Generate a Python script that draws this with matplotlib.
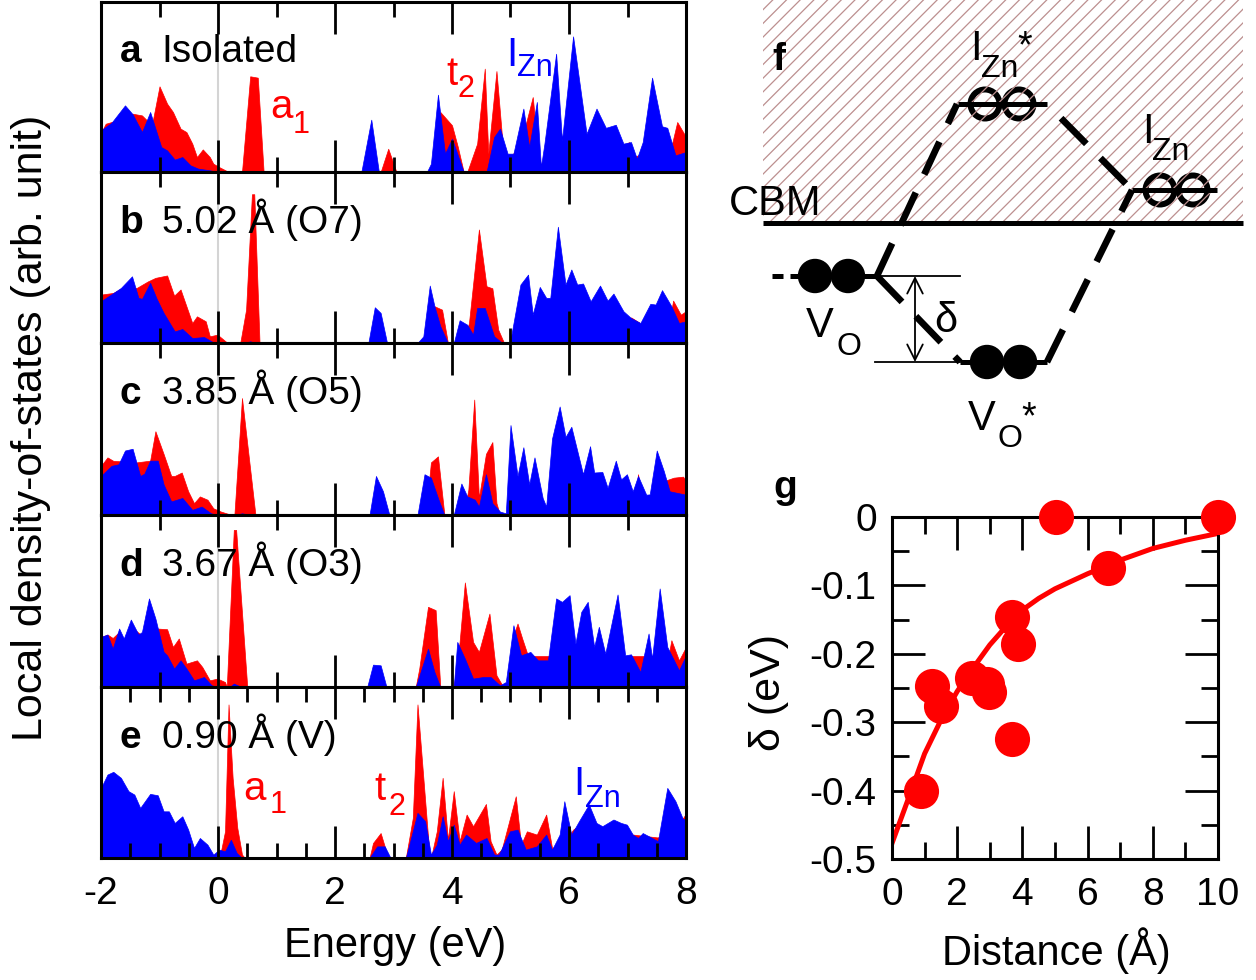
import matplotlib
matplotlib.use('Agg')
import matplotlib.pyplot as plt
from matplotlib.patches import Rectangle, Circle
from matplotlib.ticker import MultipleLocator, FuncFormatter
import numpy as np

plt.rcParams['font.family'] = ['Liberation Sans', 'DejaVu Sans']
plt.rcParams['axes.unicode_minus'] = False

# ---- local DOS, (energy eV, arb. unit) breakpoints ----
a_blue = [(-2.00, 2.45), (-1.82, 2.9), (-1.59, 3.92), (-1.46, 3.4), (-1.30, 2.35), (-1.16, 3.53),
          (-0.97, 1.47), (-0.87, 1.27), (-0.74, 0.73), (-0.61, 0.88), (-0.47, 0.39), (-0.34, 0.2),
          (-0.14, 0.1), (0.0, 0.0), (2.45, 0.0), (2.62, 3.08), (2.75, 0.0),
          (3.57, 0.0), (3.64, 0.49), (3.76, 4.55), (3.88, 1.08), (4.00, 1.96), (4.20, 0.0),
          (4.59, 0.0), (4.72, 2.06), (4.82, 2.55), (4.95, 1.08), (5.05, 1.08), (5.22, 3.73),
          (5.32, 1.47), (5.45, 4.12), (5.52, 0.3), (5.58, 1.67), (5.78, 6.96), (5.88, 1.86),
          (6.07, 7.98), (6.30, 2.25), (6.47, 3.73), (6.63, 2.6), (6.80, 2.78), (6.93, 1.67),
          (7.06, 1.76), (7.16, 0.78), (7.26, 1.76), (7.42, 5.55), (7.59, 2.69), (7.68, 2.6),
          (7.82, 0.98), (8.00, 1.18)]
a_red = [(-2.00, 2.3), (-1.92, 2.84), (-1.82, 2.94), (-1.59, 3.2), (-1.46, 3.43), (-1.30, 3.33),
         (-1.13, 2.75), (-1.00, 5.04), (-0.87, 4.02), (-0.77, 3.53), (-0.64, 2.55), (-0.54, 2.35),
         (-0.44, 1.67), (-0.36, 0.88), (-0.26, 1.33), (-0.14, 0.88), (-0.08, 0.49), (0.02, 0.29),
         (0.15, 0.06), (0.25, 0.0), (0.41, 0.0), (0.55, 5.63), (0.68, 5.55), (0.78, 0.0),
         (2.78, 0.0), (2.91, 1.37), (3.05, 0.0),
         (3.70, 0.0), (3.80, 3.53), (4.00, 2.75), (4.10, 1.47), (4.20, 0.0),
         (4.26, 0.0), (4.43, 1.67), (4.56, 6.08), (4.62, 1.08), (4.76, 5.94), (4.86, 1.86),
         (4.95, 0.5), (5.20, 2.0), (5.38, 4.41), (5.45, 2.0), (5.52, 0.2), (5.60, 1.5),
         (6.90, 1.5), (7.03, 1.76), (7.10, 0.9), (7.75, 1.5), (7.85, 2.94), (8.00, 2.06)]

b_blue = [(-2.00, 2.44), (-1.66, 3.22), (-1.47, 3.9), (-1.36, 2.64), (-1.30, 2.58), (-1.16, 3.52),
          (-1.05, 2.6), (-0.93, 1.76), (-0.74, 0.68), (-0.61, 0.82), (-0.44, 0.29), (-0.24, 0.35),
          (-0.08, 0.04), (0.0, 0.0), (0.45, 0.0), (0.55, 0.1), (0.65, 0.0),
          (2.57, 0.0), (2.68, 2.09), (2.78, 1.76), (2.89, 0.0),
          (3.41, 0.0), (3.51, 0.39), (3.62, 3.36), (3.70, 2.15), (3.80, 0.98), (3.93, 0.0),
          (4.03, 0.0), (4.13, 1.33), (4.26, 1.07), (4.36, 0.49), (4.43, 2.05), (4.56, 2.05),
          (4.72, 0.39), (4.86, 0.0), (4.99, 0.0), (5.17, 3.42), (5.30, 4.0), (5.38, 1.66),
          (5.50, 3.28), (5.61, 2.64), (5.68, 2.64), (5.81, 6.8), (5.94, 3.42), (6.04, 4.3),
          (6.14, 3.42), (6.24, 3.48), (6.37, 2.44), (6.53, 3.36), (6.66, 2.48), (6.76, 2.89),
          (6.93, 1.86), (7.06, 1.46), (7.22, 1.17), (7.39, 2.29), (7.48, 2.25), (7.59, 3.09),
          (7.75, 2.15), (7.88, 1.17), (8.00, 1.27)]
b_red = [(-2.00, 2.83), (-1.79, 2.93), (-1.59, 3.3), (-1.39, 3.22), (-1.20, 3.6), (-1.07, 3.81),
         (-0.87, 3.95), (-0.75, 2.77), (-0.64, 3.13), (-0.54, 2.15), (-0.44, 1.17), (-0.36, 1.56),
         (-0.21, 1.27), (-0.14, 0.39), (-0.01, 0.49), (0.15, 0.04), (0.25, 0.0),
         (0.38, 0.0), (0.48, 1.95), (0.58, 8.7), (0.62, 8.7), (0.71, 0.0),
         (3.65, 0.0), (3.70, 2.15), (3.83, 1.95), (3.93, 0.0),
         (4.20, 0.0), (4.29, 1.17), (4.46, 6.64), (4.59, 3.32), (4.69, 3.2), (4.79, 0.78), (4.89, 0.0),
         (7.00, 0.0), (7.06, 1.5), (7.20, 1.2), (7.30, 0.0),
         (7.65, 0.0), (7.78, 2.48), (7.91, 1.66), (8.00, 1.86)]

c_blue = [(-2.00, 2.27), (-1.82, 2.86), (-1.70, 2.95), (-1.59, 3.75), (-1.46, 3.85), (-1.33, 2.27),
          (-1.26, 2.4), (-1.16, 3.16), (-1.03, 3.16), (-0.93, 1.78), (-0.80, 0.79), (-0.61, 0.99),
          (-0.44, 0.3), (-0.28, 0.49), (-0.12, 0.1), (0.0, 0.0), (0.30, 0.0), (0.41, 0.1), (0.55, 0.0),
          (2.59, 0.0), (2.70, 2.27), (2.82, 1.38), (2.93, 0.0),
          (3.41, 0.0), (3.53, 2.37), (3.64, 2.17), (3.77, 0.89), (3.87, 0.0),
          (4.03, 0.0), (4.16, 1.83), (4.26, 1.08), (4.39, 0.89), (4.46, 0.49), (4.58, 2.37),
          (4.69, 0.69), (4.82, 0.2), (4.92, 0.1), (5.00, 5.23), (5.12, 2.27), (5.22, 3.94),
          (5.32, 1.78), (5.41, 3.35), (5.55, 0.99), (5.61, 0.49), (5.71, 4.44), (5.84, 6.31),
          (5.94, 4.54), (6.04, 5.13), (6.24, 2.37), (6.36, 4.0), (6.43, 2.47), (6.57, 2.5),
          (6.66, 1.58), (6.80, 3.16), (6.89, 2.07), (6.99, 2.37), (7.09, 1.38), (7.18, 2.27),
          (7.32, 1.18), (7.38, 1.2), (7.50, 3.75), (7.62, 2.56), (7.72, 1.38), (8.00, 1.18)]
c_red = [(-2.00, 2.86), (-1.89, 3.35), (-1.79, 3.15), (-1.39, 3.06), (-1.16, 3.16), (-1.07, 4.87),
         (-0.93, 3.55), (-0.80, 2.27), (-0.74, 2.27), (-0.62, 2.47), (-0.51, 1.38), (-0.41, 0.69),
         (-0.31, 1.08), (-0.18, 0.89), (-0.08, 0.39), (0.05, 0.2), (0.18, 0.06), (0.28, 0.0),
         (0.41, 6.8), (0.64, 0.0),
         (3.55, 0.0), (3.64, 3.06), (3.76, 3.41), (3.87, 0.0),
         (4.20, 0.0), (4.28, 1.48), (4.38, 6.71), (4.46, 0.99), (4.58, 3.55), (4.69, 4.24),
         (4.76, 0.69), (4.82, 0.0), (7.10, 0.0), (7.18, 2.37), (7.28, 0.0),
         (7.55, 0.0), (7.62, 1.97), (7.79, 2.17), (7.95, 2.23), (8.00, 1.97)]

d_blue = [(-2.00, 2.91), (-1.89, 3.05), (-1.80, 2.23), (-1.69, 3.40), (-1.61, 2.82), (-1.49, 3.92),
          (-1.36, 3.05), (-1.30, 3.2), (-1.18, 5.15), (-1.07, 3.98), (-0.93, 2.04), (-0.87, 1.84),
          (-0.75, 1.07), (-0.64, 1.55), (-0.54, 1.07), (-0.41, 0.39), (-0.24, 0.58), (-0.11, 0.1),
          (0.0, 0.0), (0.20, 0.0), (0.27, 0.2), (0.40, 0.0),
          (2.55, 0.0), (2.65, 1.3), (2.78, 1.26), (2.88, 0.0),
          (3.38, 0.0), (3.59, 2.23), (3.70, 0.87), (3.80, 0.0),
          (4.03, 0.0), (4.09, 2.62), (4.22, 1.65), (4.36, 0.49), (4.53, 0.58), (4.66, 0.58),
          (4.82, 0.1), (4.92, 0.29), (5.05, 3.59), (5.18, 1.84), (5.34, 2.04), (5.47, 1.55),
          (5.64, 1.55), (5.78, 5.15), (5.88, 4.95), (6.01, 5.34), (6.11, 2.52), (6.21, 4.37),
          (6.32, 4.95), (6.43, 2.33), (6.51, 3.50), (6.62, 1.94), (6.83, 5.38), (6.96, 1.84),
          (7.06, 1.9), (7.22, 0.87), (7.36, 3.11), (7.42, 1.65), (7.55, 5.73), (7.68, 2.33),
          (7.88, 0.97), (8.00, 1.84)]
d_red = [(-2.00, 2.9), (-1.89, 3.05), (-1.80, 2.85), (-1.69, 3.2), (-1.61, 2.6), (-1.49, 3.5),
         (-1.30, 3.0), (-1.18, 4.0), (-1.04, 3.40), (-0.87, 3.36), (-0.77, 2.33), (-0.67, 2.82),
         (-0.54, 1.36), (-0.36, 1.55), (-0.27, 1.17), (-0.14, 0.39), (-0.01, 0.49), (0.12, 0.29),
         (0.15, 0.0), (0.27, 9.13), (0.31, 9.13), (0.50, 0.0),
         (3.38, 0.0), (3.44, 1.07), (3.59, 4.66), (3.72, 4.47), (3.80, 0.0),
         (4.03, 0.0), (4.13, 2.62), (4.22, 6.08), (4.36, 2.62), (4.46, 2.04), (4.64, 4.27),
         (4.76, 0.68), (4.86, 0.1), (4.95, 0.0), (5.05, 3.0), (5.12, 3.69), (5.20, 2.82),
         (5.30, 1.8), (7.70, 1.8), (7.75, 2.72), (7.88, 1.55), (8.00, 2.33)]

e_blue = [(-2.00, 4.10), (-1.89, 4.88), (-1.79, 5.04), (-1.66, 4.69), (-1.53, 3.91), (-1.43, 3.71),
          (-1.33, 2.93), (-1.16, 3.75), (-1.03, 3.67), (-0.93, 2.73), (-0.84, 2.73), (-0.74, 2.05),
          (-0.61, 2.44), (-0.51, 1.66), (-0.41, 0.59), (-0.31, 1.17), (-0.18, 0.78), (-0.08, 0.2),
          (0.02, 0.49), (0.12, 0.39), (0.22, 1.07), (0.32, 0.29), (0.41, 0.0),
          (2.59, 0.0), (2.72, 0.68), (2.85, 0.68), (2.95, 0.0),
          (3.21, 0.0), (3.30, 1.17), (3.41, 2.64), (3.54, 2.15), (3.64, 0.2), (3.74, 0.78),
          (3.84, 2.44), (3.93, 0.98), (4.03, 1.95), (4.13, 0.78), (4.24, 1.37), (4.41, 0.88),
          (4.59, 1.17), (4.72, 0.2), (4.80, 0.2), (4.99, 1.56), (5.12, 1.66), (5.26, 0.49),
          (5.45, 0.68), (5.61, 1.37), (5.71, 0.49), (5.84, 1.37), (5.92, 3.32), (6.04, 1.37),
          (6.17, 2.15), (6.34, 3.13), (6.47, 2.05), (6.57, 1.86), (6.76, 2.25), (6.89, 2.05),
          (6.99, 1.95), (7.09, 1.37), (7.18, 1.17), (7.26, 1.46), (7.42, 1.17), (7.52, 0.98),
          (7.68, 4.10), (7.82, 3.32), (7.95, 2.25), (8.00, 2.34)]
e_red = [(0.0, 0.0), (0.05, 0.39), (0.12, 1.56), (0.18, 8.98), (0.25, 4.69), (0.33, 1.76),
         (0.41, 0.2), (0.46, 0.0), (2.59, 0.0), (2.65, 0.88), (2.78, 1.46), (2.91, 0.0),
         (3.21, 0.0), (3.33, 2.34), (3.41, 8.98), (3.51, 4.69), (3.61, 0.39), (3.64, 0.0),
         (3.74, 1.56), (3.84, 4.69), (3.93, 1.07), (4.03, 3.91), (4.13, 0.98), (4.25, 2.54),
         (4.36, 1.86), (4.58, 3.16), (4.66, 0.98), (4.76, 0.2), (4.85, 0.5), (5.09, 3.61),
         (5.18, 0.78), (5.28, 1.56), (5.45, 1.37), (5.61, 2.54), (5.71, 0.59), (5.90, 0.8),
         (6.07, 1.66), (6.11, 1.76), (7.52, 1.2), (7.95, 2.34), (8.00, 2.6)]

panel_letters = ['a', 'b', 'c', 'd', 'e']
panel_titles = ['Isolated', '5.02 Å (O7)', '3.85 Å (O5)', '3.67 Å (O3)', '0.90 Å (V)']
red_series = [a_red, b_red, c_red, d_red, e_red]
blue_series = [a_blue, b_blue, c_blue, d_blue, e_blue]

# ---- panel g: level shift vs distance ----
dist = [0.90, 1.22, 1.51, 2.45, 2.90, 2.98, 3.67, 3.85, 3.67, 5.02, 6.63, 10.0]
delta = [-0.40, -0.247, -0.277, -0.236, -0.244, -0.256, -0.146, -0.186, -0.324, 0.0, -0.074, 0.0]
fit_x = [0, 0.5, 1, 1.5, 2, 2.5, 3, 3.5, 4, 4.5, 5, 6, 7, 8, 9, 10]
fit_y = [-0.477, -0.412, -0.346, -0.297, -0.255, -0.22, -0.187, -0.16, -0.136, -0.119,
         -0.105, -0.083, -0.063, -0.046, -0.034, -0.024]

W, H = 1256, 980
fig = plt.figure(figsize=(W / 100, H / 100), dpi=100)


def rect(x0, y0, x1, y1):
    return [x0 / W, 1 - y1 / H, (x1 - x0) / W, (y1 - y0) / H]


tops = [2, 172, 343, 515, 687]
bots = [172, 343, 515, 687, 858]
axes = []
for i in range(5):
    ax = fig.add_axes(rect(101, tops[i], 686, bots[i]))
    E, v = np.array(red_series[i]).T
    ax.fill_between(E, 0, v, color='#ff0000', lw=0.5)
    E, v = np.array(blue_series[i]).T
    ax.fill_between(E, 0, v, color='#0000ff', lw=0.5)
    ax.axvline(0, color='#d4d4d4', lw=1.5, zorder=0.5)
    ax.set_xlim(-2, 8)
    ax.set_ylim(0, 10)
    ax.set_yticks([])
    ax.xaxis.set_major_locator(MultipleLocator(2))
    ax.xaxis.set_minor_locator(MultipleLocator(0.5 if i == 4 else 1))
    ax.tick_params(axis='x', which='both', direction='in', top=True, bottom=True, width=2,
                   labelbottom=(i == 4), labelsize=28, pad=13)
    ax.tick_params(axis='x', which='major', length=23)
    ax.tick_params(axis='x', which='minor', length=11)
    for s in ax.spines.values():
        s.set_linewidth(2.2)
    ax.text(0.032, 0.645, panel_letters[i], transform=ax.transAxes, fontsize=28,
            fontweight='bold', va='baseline', zorder=3)
    ax.text(0.104, 0.645, panel_titles[i], transform=ax.transAxes, fontsize=28,
            va='baseline', zorder=3)
    axes.append(ax)

# state labels
ax = axes[0]
ax.text(0.90, 3.16, 'a', color='red', fontsize=29, va='baseline')
ax.text(1.27, 2.28, '1', color='red', fontsize=22, va='baseline')
ax.text(3.91, 5.09, 't', color='red', fontsize=29, va='baseline')
ax.text(4.10, 4.39, '2', color='red', fontsize=22, va='baseline')
ax.text(4.93, 6.26, 'I', color='blue', fontsize=29, va='baseline')
ax.text(5.11, 5.67, 'Zn', color='blue', fontsize=22, va='baseline')
ax = axes[4]
ax.text(0.44, 3.39, 'a', color='red', fontsize=29, va='baseline')
ax.text(0.88, 2.63, '1', color='red', fontsize=22, va='baseline')
ax.text(2.67, 3.39, 't', color='red', fontsize=29, va='baseline')
ax.text(2.92, 2.51, '2', color='red', fontsize=22, va='baseline')
ax.text(6.07, 3.68, 'I', color='blue', fontsize=29, va='baseline')
ax.text(6.27, 2.98, 'Zn', color='blue', fontsize=22, va='baseline')

fig.text(395 / W, 1 - 957 / H, 'Energy (eV)', fontsize=30, ha='center', va='baseline')
fig.text(31 / W, 1 - 428 / H, 'Local density-of-states (arb. unit)', fontsize=31,
         rotation=90, ha='center', va='center')

# ---- panel f: level schematic (pixel frame) ----
axf = fig.add_axes(rect(740, 0, 1256, 460))
axf.set_xlim(740, 1256)
axf.set_ylim(460, 0)
axf.axis('off')

cbm_y = 223
y_vo, y_vos, y_izs, y_iz = 276, 362, 104, 190
band = Rectangle((763, 0), 480, cbm_y, facecolor='none', lw=0)
axf.add_patch(band)
for k in np.arange(763 - 4, 1243 + cbm_y + 14, 13.7):
    hl, = axf.plot([k - cbm_y, k], [cbm_y, 0], color='#bc8f8f', lw=0.9)
    hl.set_clip_path(band)
axf.plot([763, 1243], [cbm_y, cbm_y], color='k', lw=3.6, solid_capstyle='butt')
axf.text(821, 215, 'CBM', fontsize=30, ha='right', va='baseline')
axf.text(772, 70, 'f', fontsize=28, fontweight='bold', va='baseline')

lev = dict(color='k', lw=3.6, solid_capstyle='butt')
axf.plot([772, 783], [y_vo, y_vo], **lev)
axf.plot([790, 877], [y_vo, y_vo], **lev)
axf.plot([960, 1047], [y_vos, y_vos], **lev)
axf.plot([958, 1047], [y_izs, y_izs], **lev)
axf.plot([1132, 1217], [y_iz, y_iz], **lev)
axf.plot([877, 960], [y_vo, y_vo], color='k', lw=1.3)
axf.plot([875, 960], [y_vos, y_vos], color='k', lw=1.3)
axf.annotate('', xy=(915, y_vo), xytext=(915, y_vos),
             arrowprops=dict(arrowstyle='<->', lw=1.3, color='k', mutation_scale=28,
                             shrinkA=0, shrinkB=0))

for cx in (815, 848):
    axf.add_patch(Circle((cx, y_vo), 16.5, color='k'))
for cx in (987, 1020):
    axf.add_patch(Circle((cx, y_vos), 16.5, color='k'))
for cx in (985, 1019):
    axf.add_patch(Circle((cx, y_izs), 14.5, facecolor='none', edgecolor='k', lw=4.3))
for cx in (1160, 1193):
    axf.add_patch(Circle((cx, y_iz), 14.5, facecolor='none', edgecolor='k', lw=4.3))

dash = dict(color='k', lw=4.8, dash_capstyle='butt')
axf.plot([877, 957], [y_vo, y_izs], linestyle=(0, (5.4, 3.0)), **dash)
axf.plot([877, 960], [y_vo, y_vos], linestyle=(0, (5.4, 3.0)), **dash)
axf.plot([1047, 1132], [y_vos, y_iz], linestyle=(0, (5.4, 3.0)), **dash)
axf.plot([1047, 1132], [y_izs, y_iz], linestyle=(5.4, (5.4, 3.0)), **dash)

axf.text(806, 337, 'V', fontsize=30, va='baseline')
axf.text(836, 355, 'O', fontsize=23, va='baseline')
axf.text(968, 430, 'V', fontsize=30, va='baseline')
axf.text(997, 447, 'O', fontsize=23, va='baseline')
axf.text(1021, 428, '*', fontsize=27, va='baseline')
axf.text(970, 60, 'I', fontsize=30, va='baseline')
axf.text(981, 77, 'Zn', fontsize=23, va='baseline')
axf.text(1017, 57, '*', fontsize=27, va='baseline')
axf.text(1142, 143, 'I', fontsize=30, va='baseline')
axf.text(1152, 160, 'Zn', fontsize=23, va='baseline')
axf.text(946, 321, 'δ', fontsize=30, ha='center', va='center')

# ---- panel g ----
axg = fig.add_axes(rect(892, 517, 1218, 859))
axg.plot(fit_x, fit_y, color='red', lw=3.6, zorder=2)
axg.scatter(dist, delta, s=640, color='red', linewidths=0, zorder=2.2, clip_on=False)
axg.set_xlim(0, 10)
axg.set_ylim(-0.5, 0)
axg.xaxis.set_major_locator(MultipleLocator(2))
axg.xaxis.set_minor_locator(MultipleLocator(1))
axg.yaxis.set_major_locator(MultipleLocator(0.1))
axg.yaxis.set_minor_locator(MultipleLocator(0.05))
axg.yaxis.set_major_formatter(FuncFormatter(lambda y, p: '0' if abs(y) < 1e-9 else f'{y:.1f}'))
axg.tick_params(which='both', direction='in', top=True, right=True, width=2, labelsize=28)
axg.tick_params(which='major', length=24)
axg.tick_params(which='minor', length=12)
axg.tick_params(axis='x', pad=13)
axg.tick_params(axis='y', pad=11)
for s in axg.spines.values():
    s.set_linewidth(2.2)
    s.set_zorder(2)
fig.text(773 / W, 1 - 498 / H, 'g', fontsize=28, fontweight='bold', va='baseline')
fig.text(769 / W, 1 - 692 / H, 'δ (eV)', fontsize=31, rotation=90, ha='center', va='center')
fig.text(1056 / W, 1 - 965 / H, 'Distance (Å)', fontsize=30, ha='center', va='baseline')

fig.savefig('out.png', dpi=100)
